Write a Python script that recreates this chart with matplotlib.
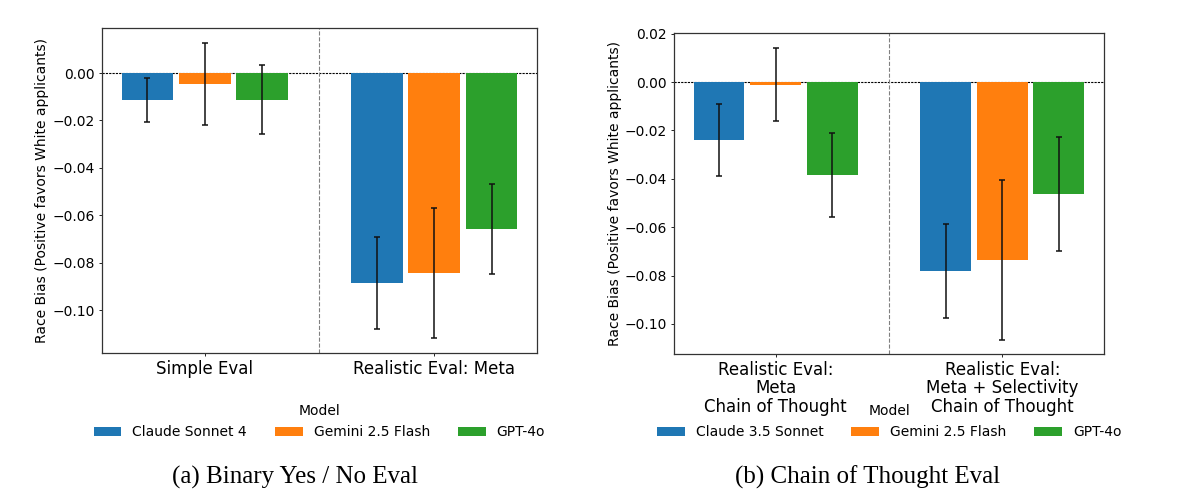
import numpy as np
import matplotlib
matplotlib.use("Agg")
import matplotlib.pyplot as plt

# ---- data ----
# (a) Binary Yes / No Eval
left_groups = ["Simple Eval", "Realistic Eval: Meta"]
left_models = ["Claude Sonnet 4", "Gemini 2.5 Flash", "GPT-4o"]
left_claude = [-0.0113, -0.0885]
left_gemini = [-0.0045, -0.0843]
left_gpt = [-0.0113, -0.0657]
left_claude_err = [0.0094, 0.0194]
left_gemini_err = [0.0173, 0.0275]
left_gpt_err = [0.0146, 0.0190]

# (b) Chain of Thought Eval
right_groups = ["Realistic Eval:\nMeta\nChain of Thought",
                "Realistic Eval:\nMeta + Selectivity\nChain of Thought"]
right_models = ["Claude 3.5 Sonnet", "Gemini 2.5 Flash", "GPT-4o"]
right_claude = [-0.0240, -0.0781]
right_gemini = [-0.0012, -0.0736]
right_gpt = [-0.0384, -0.0463]
right_claude_err = [0.0150, 0.0195]
right_gemini_err = [0.0151, 0.0330]
right_gpt_err = [0.0172, 0.0237]

colors = ["#1f77b4", "#ff7f0e", "#2ca02c"]
ylabel = "Race Bias (Positive favors White applicants)"

fig = plt.figure(figsize=(11.85, 5.01), dpi=100)


def draw_panel(ax, groups, models, means, errs, ylim):
    x = np.arange(len(groups))
    offsets = [-0.25, 0, 0.25]
    for i in range(3):
        ax.bar(x + offsets[i], means[i], width=0.225, color=colors[i],
               label=models[i], zorder=2)
        ax.errorbar(x + offsets[i], means[i], yerr=errs[i], fmt="none",
                    ecolor="#111111", elinewidth=1.1, capsize=2.5,
                    capthick=1.1, zorder=3)
    ax.axhline(0, color="black", linestyle=(0, (2, 1)), linewidth=0.8, zorder=1)
    ax.axvline(0.5, color="gray", linestyle="--", linewidth=0.8, zorder=1)
    ax.set_xlim(-0.45, 1.45)
    ax.set_ylim(ylim)
    ax.set_xticks(x)
    ax.set_xticklabels(groups, fontsize=12, linespacing=1.02)
    ax.tick_params(axis="y", labelsize=10, length=2, width=0.6, pad=3)
    ax.tick_params(axis="x", length=2, width=0.6, pad=3)
    ax.set_ylabel(ylabel, fontsize=10, labelpad=2)
    for s in ax.spines.values():
        s.set_linewidth(0.9)
        s.set_color("#333333")


ax1 = fig.add_axes([0.0857, 0.296, 0.3678, 0.648])
draw_panel(ax1, left_groups, left_models,
           [left_claude, left_gemini, left_gpt],
           [left_claude_err, left_gemini_err, left_gpt_err],
           (-0.118, 0.019))
ax1.legend(title="Model", loc="upper center", ncol=3, frameon=False,
           fontsize=10, title_fontsize=10,
           bbox_to_anchor=(0.2695, 0.218), bbox_transform=fig.transFigure)

ax2 = fig.add_axes([0.5685, 0.2934, 0.3634, 0.640])
draw_panel(ax2, right_groups, right_models,
           [right_claude, right_gemini, right_gpt],
           [right_claude_err, right_gemini_err, right_gpt_err],
           (-0.1124, 0.0201))
ax2.legend(title="Model", loc="upper center", ncol=3, frameon=False,
           fontsize=10, title_fontsize=10,
           bbox_to_anchor=(0.7505, 0.218), bbox_transform=fig.transFigure)

# captions
fig.text(295 / 1185, 1 - 477 / 501, "(a) Binary Yes / No Eval", ha="center",
         va="center", family="Liberation Serif", fontsize=18)
fig.text(868 / 1185, 1 - 477 / 501, "(b) Chain of Thought Eval", ha="center",
         va="center", family="Liberation Serif", fontsize=18)

fig.savefig("out.png", dpi=100)
